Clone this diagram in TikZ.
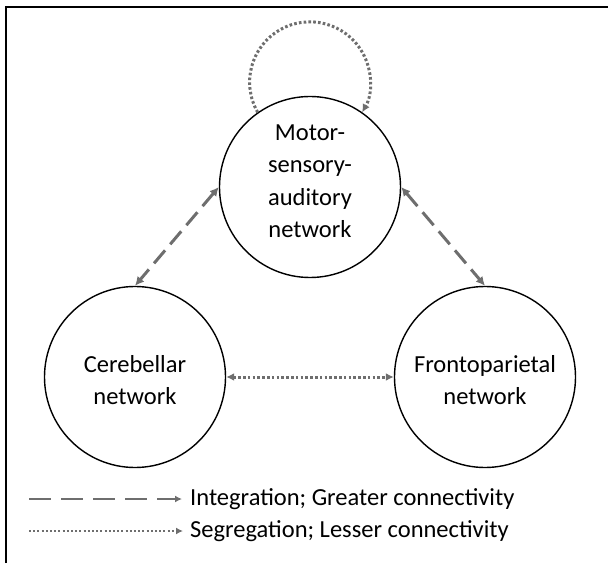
\documentclass[tikz,border=0pt]{standalone}
\usepackage{fontspec}
\setmainfont{Carlito}
\usetikzlibrary{arrows.meta}
\definecolor{conn}{RGB}{110,110,110}
\tikzset{
  net/.style={circle, draw=black, line width=1.4pt, minimum size=181pt, inner sep=0pt},
  nettext/.style={align=center, inner sep=0pt, font=\fontsize{24.5}{32.5}\selectfont},
  dashconn/.style={conn, line width=3pt, dash pattern=on 17pt off 8pt, {Latex[length=9pt,width=9pt]}-{Latex[length=9pt,width=9pt]}},
  dotconn/.style={conn, line width=3pt, dash pattern=on 2.6pt off 2.2pt, {Latex[length=8pt,width=8pt]}-{Latex[length=8pt,width=8pt]}},
  legtext/.style={anchor=west, inner sep=0pt, font=\fontsize{24.5}{30}\selectfont},
}
\begin{document}
\begin{tikzpicture}[x=1pt,y=1pt]
\useasboundingbox (0,0) rectangle (608,563);
\draw[line width=2pt] (6,0) -- (6,556) -- (608,556);

\node[net] (msa) at (310,376) {};
\node[net] (cer) at (135,186) {};
\node[net] (fp) at (485,186) {};
\node[nettext] (msat) at ([yshift=6pt]msa.center) {Motor-\\sensory-\\auditory\\network};
\node[nettext] (cert) at ([yshift=-3pt]cer.center) {Cerebellar\\network};
\node[nettext] (fpt) at ([yshift=-3pt]fp.center) {Frontoparietal\\network};

\draw[dashconn] (msa.west) -- (cer.north);
\draw[dashconn] (msa.east) -- (fp.north);
\draw[dotconn] (cer.east) -- (fp.west);
\draw[conn, line width=3pt, dash pattern=on 2.6pt off 2.2pt, -{Latex[length=8pt,width=8pt]}]
  (msa.125) arc[start angle=210, end angle=-30, radius=60.3];

% legend
\node[legtext] (l1) at (190,64) {Integration; Greater connectivity};
\node[legtext] (l2) at (190,32) {Segregation; Lesser connectivity};
\coordinate (d1) at (29,64);
\coordinate (d2) at (29,32);
\draw[conn, line width=2.6pt, dash pattern=on 22pt off 10pt, -{Latex[length=7pt,width=7pt]}, shorten >=8pt] (d1) -- (l1.west);
\draw[conn, line width=2.2pt, dash pattern=on 2pt off 2.2pt, -{Latex[length=7pt,width=7pt]}, shorten >=7pt] (d2) -- (l2.west);
\end{tikzpicture}
\end{document}
